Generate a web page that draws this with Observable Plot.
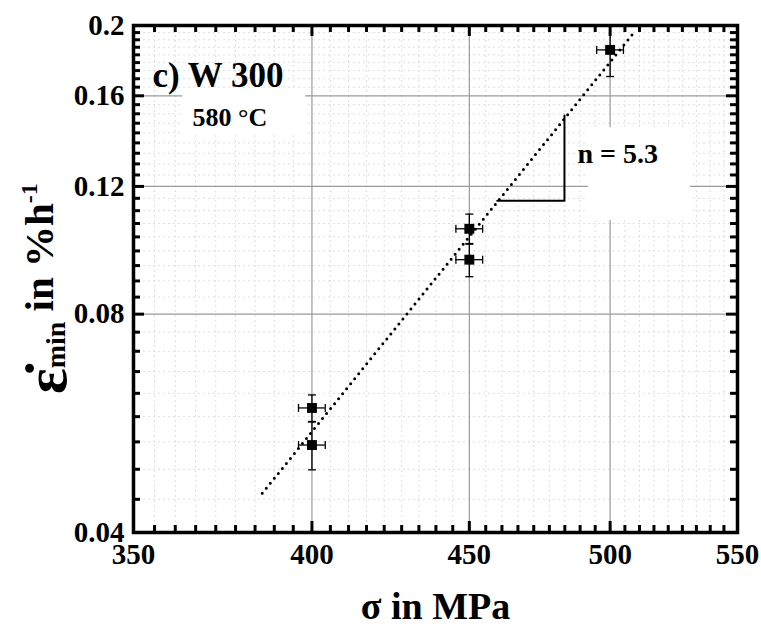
<!DOCTYPE html>
<html><head><meta charset="utf-8">
<script src="https://cdn.jsdelivr.net/npm/d3@7"></script>
<script src="https://cdn.jsdelivr.net/npm/@observablehq/plot@0.6"></script>
<style>body{margin:0;background:#fff} #chart svg{display:block}</style>
</head><body><div id="chart"></div>
<script>
// ---- data ----
const stress    = [400, 400, 450, 450, 500];          // σ in MPa
const rate      = [0.0594, 0.0528, 0.1049, 0.0951, 0.1851]; // ε̇min in %/h
const stressErr = [4, 4, 4.5, 4.5, 5];
const rateErr   = [0.0025, 0.004, 0.005, 0.005, 0.015];
const fitStress = [385.4, 508.9];
const fitRate   = [0.0453, 0.1954];
const slopeStress = [459.5, 483.2, 483.2];
const slopeRate   = [0.1147, 0.1147, 0.1503];
const xTicks = [350, 400, 450, 500, 550];
const xTickLabels = ["350", "400", "450", "500", "550"];
const yTicks = [0.04, 0.08, 0.12, 0.16, 0.2];
const yTickLabels = ["0.04", "0.08", "0.12", "0.16", "0.2"];
const notes = ["c) W 300", "580 °C", "n = 5.3"];
const noteStress = [355.0, 365.8, 487.9];
const noteRate = [0.1706, 0.1491, 0.1332];
const noteSize = [35, 26, 28];
const boxStress1 = [363.1, 492.0], boxStress2 = [398.1, 531.0];
const boxRate1 = [0.1410, 0.1077], boxRate2 = [0.1627, 0.1446];

// ---- derived tables ----
const pts = stress.map((s, i) => ({s, r: rate[i], es: stressErr[i], er: rateErr[i]}));
const fit = fitStress.map((s, i) => ({s, r: fitRate[i]}));
const tri = slopeStress.map((s, i) => ({s, r: slopeRate[i]}));
const noteData = notes.map((t, i) => ({t, s: noteStress[i], r: noteRate[i], size: noteSize[i]}));
const boxes = boxStress1.map((s, i) => ({x1: s, x2: boxStress2[i], y1: boxRate1[i], y2: boxRate2[i]}));
function minors(ticks) {
  const out = [];
  for (let i = 0; i < ticks.length - 1; i++)
    for (let k = 1; k < 9; k++) out.push(ticks[i] + (ticks[i + 1] - ticks[i]) * k / 9);
  return out;
}
const xMinor = minors(xTicks), yMinor = minors(yTicks);
const xInner = xTicks.slice(1, -1), yInner = yTicks.slice(1, -1);

const rOf = size => Math.sqrt(size / Math.PI);
const capH = {draw(ctx, size) { const r = rOf(size); ctx.moveTo(-r, 0); ctx.lineTo(r, 0); }};
const capV = {draw(ctx, size) { const r = rOf(size); ctx.moveTo(0, -r); ctx.lineTo(0, r); }};

const W = 761, H = 637, mT = 25, mR = 24, mB = 105, mL = 133;
const fw = W - mL - mR, fh = H - mT - mB;
const FONT = "'Liberation Serif', 'Times New Roman', serif";
const TC = "black", tw = 3;
// inward ticks as frame rules shortened by insets
const tickB = (v, len) => Plot.ruleX(v, {x: d => d, insetTop: fh - len, stroke: TC, strokeWidth: tw});
const tickT = (v, len) => Plot.ruleX(v, {x: d => d, insetBottom: fh - len, stroke: TC, strokeWidth: tw});
const tickL = (v, len) => Plot.ruleY(v, {y: d => d, insetRight: fw - len, stroke: TC, strokeWidth: tw});
const tickR = (v, len) => Plot.ruleY(v, {y: d => d, insetLeft: fw - len, stroke: TC, strokeWidth: tw});

const chart = Plot.plot({
  width: W, height: H,
  marginTop: mT, marginRight: mR, marginBottom: mB, marginLeft: mL,
  x: {type: "log", domain: [350, 550], axis: null},
  y: {type: "log", domain: [0.04, 0.2], axis: null},
  marks: [
    Plot.gridX(xMinor, {stroke: "#dedede", strokeOpacity: 1, strokeDasharray: "2,3", strokeWidth: 1}),
    Plot.gridY(yMinor, {stroke: "#dedede", strokeOpacity: 1, strokeDasharray: "2,3", strokeWidth: 1}),
    Plot.gridX(xInner, {stroke: "#9a9a9a", strokeOpacity: 1, strokeWidth: 1.2}),
    Plot.gridY(yInner, {stroke: "#9a9a9a", strokeOpacity: 1, strokeWidth: 1.2}),
    Plot.rect(boxes, {x1: "x1", x2: "x2", y1: "y1", y2: "y2", fill: "white"}),
    Plot.line(fit, {x: "s", y: "r", stroke: "black", strokeWidth: 3, strokeDasharray: "0,6.4", strokeLinecap: "round"}),
    Plot.line(tri, {x: "s", y: "r", stroke: "black", strokeWidth: 2}),
    Plot.ruleX(pts, {x: "s", y1: d => d.r - d.er, y2: d => d.r + d.er, stroke: "black", strokeWidth: 1.3}),
    Plot.ruleY(pts, {y: "r", x1: d => d.s - d.es, x2: d => d.s + d.es, stroke: "black", strokeWidth: 1.3}),
    Plot.dot(pts, {x: "s", y: d => d.r - d.er, symbol: capH, r: 4, stroke: "black", fill: "none", strokeWidth: 1.3}),
    Plot.dot(pts, {x: "s", y: d => d.r + d.er, symbol: capH, r: 4, stroke: "black", fill: "none", strokeWidth: 1.3}),
    Plot.dot(pts, {x: d => d.s - d.es, y: "r", symbol: capV, r: 4, stroke: "black", fill: "none", strokeWidth: 1.3}),
    Plot.dot(pts, {x: d => d.s + d.es, y: "r", symbol: capV, r: 4, stroke: "black", fill: "none", strokeWidth: 1.3}),
    Plot.dot(pts, {x: "s", y: "r", symbol: "square", r: 5.6, fill: "black", stroke: "none"}),
    Plot.text(noteData, {x: "s", y: "r", text: "t", fontSize: "size", textAnchor: "start", fill: "black", fontWeight: "bold", fontFamily: FONT}),
    Plot.frame({stroke: "black", strokeWidth: 3.5}),
    // inward ticks on all four sides
    tickB(xMinor, 7), tickB(xTicks, 11), tickT(xMinor, 7), tickT(xTicks, 11),
    tickL(yMinor, 7), tickL(yTicks, 11), tickR(yMinor, 7), tickR(yTicks, 11),
    // tick labels
    Plot.text(xTicks, {x: d => d, frameAnchor: "bottom", dy: 31, text: d => xTickLabels[xTicks.indexOf(d)],
      fontSize: 29, fontWeight: "bold", fontFamily: FONT, fill: "black"}),
    Plot.text(yTicks, {y: d => d, frameAnchor: "left", dx: -9, textAnchor: "end", text: d => yTickLabels[yTicks.indexOf(d)],
      fontSize: 29, fontWeight: "bold", fontFamily: FONT, fill: "black"}),
    Plot.text(["σ in MPa"], {frameAnchor: "bottom", dy: 86, text: d => d, fontSize: 38, fontWeight: "bold", fontFamily: FONT, fill: "black"})
  ]
});
chart.style.background = "white";
document.getElementById("chart").appendChild(chart);

// y-axis title with subscript and superscript
const svg = d3.select(chart);
const t = svg.append("text")
  .attr("transform", "translate(66,394) rotate(-90)")
  .attr("font-family", FONT).attr("font-weight", "bold").attr("fill", "black")
  .attr("text-anchor", "start");
t.append("tspan").attr("font-size", 60).text("ε\u0307");
t.append("tspan").attr("font-size", 28).attr("dy", -1).text("min");
t.append("tspan").attr("font-size", 41).attr("dy", -12).text(" in %h");
t.append("tspan").attr("font-size", 24).attr("dy", -16).text("-1");
</script>
</body></html>
